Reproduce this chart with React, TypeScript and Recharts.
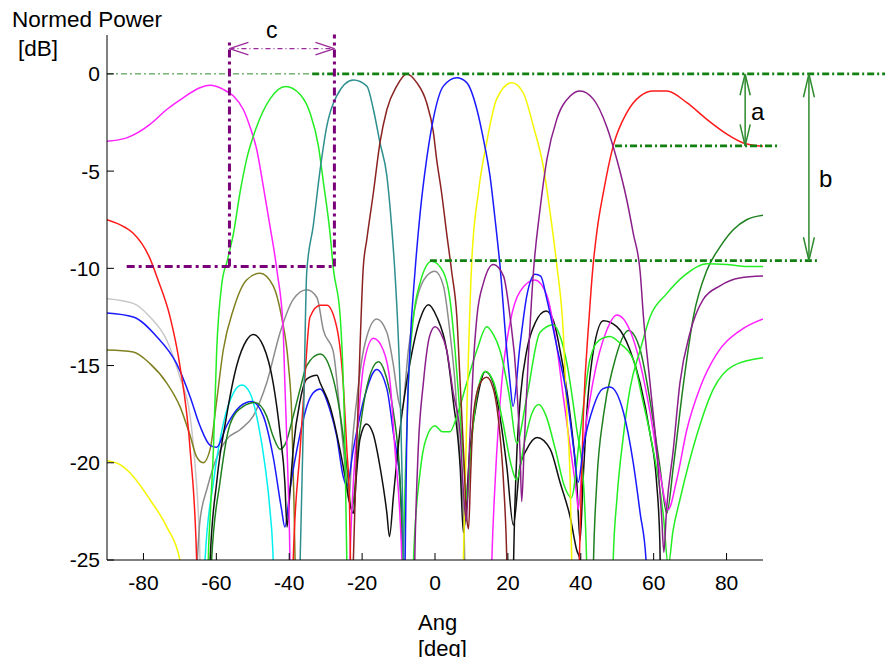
import React from "react";
import { LineChart, Line, XAxis, YAxis, ReferenceLine } from "recharts";

type Pt = [number, number];

const xTicks = [-80, -60, -40, -20, 0, 20, 40, 60, 80];
const yTicks = [-25, -20, -15, -10, -5, 0];

// main beams
const magentaMain: Pt[] = [[-90,-3.46],[-84.6,-3.29],[-78.2,-2.6],[-73.6,-1.83],[-69.1,-1.23],[-64.5,-0.71],[-61.7,-0.59],[-58.1,-0.8],[-55.3,-1.14],[-52.6,-1.83],[-50.8,-2.7],[-48.9,-3.9],[-47.1,-5.8],[-45.3,-7.8],[-43.3,-10.2],[-41.7,-13],[-41.2,-15.9],[-40.3,-21],[-39.8,-25],[-39.5,-30]];
const greenMain: Pt[] = [[-62.6,-30],[-62.2,-25],[-61.7,-22.8],[-60.8,-19.3],[-59.9,-14.2],[-58.5,-10.8],[-57,-9.6],[-55.3,-8.2],[-53.5,-6.1],[-51.7,-4.4],[-48.9,-2.7],[-45.3,-1.3],[-41,-0.65],[-37,-1.06],[-34.3,-2.0],[-32,-3.7],[-30.6,-5.6],[-28.8,-8.2],[-27.9,-10],[-26,-12.5],[-24.7,-19.3],[-24.2,-25],[-23.9,-30]];
const tealMain: Pt[] = [[-37.6,-30],[-37,-25],[-36,-17],[-35.2,-10.2],[-33.4,-7.8],[-31.5,-4.9],[-29.7,-2.7],[-27,-1.14],[-22.4,-0.32],[-18.7,-0.63],[-16.9,-1.83],[-15.1,-3.54],[-13.2,-5.26],[-11.9,-7.84],[-11,-10.2],[-10.2,-13],[-9.6,-16],[-9,-21],[-8.6,-25],[-8.2,-30]];
const brownMain: Pt[] = [[-23,-30],[-22.4,-25],[-21.5,-19.3],[-20.6,-14.2],[-19.7,-10],[-18.7,-8.5],[-16.9,-6.1],[-15.1,-3.54],[-13.2,-1.83],[-10.5,-0.63],[-7.8,0],[-5,-0.45],[-2.3,-1.48],[-0.45,-3.0],[0.45,-4.4],[1.8,-6.1],[3.2,-8.2],[4.6,-10.2],[6,-12.5],[6.9,-15.9],[7.8,-19.3],[8.7,-22.8],[9.2,-23.4],[9.8,-20.5],[10.5,-17.6],[12.4,-15.9],[14.2,-15.6],[16,-16.2],[17.8,-18.5],[18.8,-21],[19.7,-25],[20.2,-30]];
const blueMain: Pt[] = [[-8.8,-30],[-8.2,-25],[-7.8,-19.3],[-6.9,-14.2],[-5.5,-10.2],[-4.1,-7.2],[-2.3,-4.4],[-0.45,-2.3],[2.3,-0.63],[6,-0.2],[8.7,-0.45],[11.5,-1.83],[13.3,-3.37],[15.1,-5.26],[16.5,-7.5],[17.8,-9.8],[19.7,-14.2],[20.6,-15.9],[21.4,-17.1],[23.3,-14.0],[25.2,-11.4],[27.5,-10.3],[29,-10.4],[30.7,-11.6],[33.4,-14.0],[36.2,-16.6],[38,-19.2],[39.3,-21],[40.7,-19.2],[43.5,-17.1],[46,-16.2],[48,-16.1],[51.7,-17.4],[54.4,-20.0],[56.3,-22.6],[57.9,-25],[58.5,-30]];
const yellowMain: Pt[] = [[-90,-19.9],[-86.4,-20.1],[-82.8,-20.7],[-78.2,-21.9],[-73.6,-23.3],[-70,-25],[-69,-30],[7.2,-30],[7.8,-25],[8.8,-17],[10.1,-9.6],[11.9,-6.1],[14.2,-3.5],[16.9,-1.3],[21.1,-0.45],[24.2,-0.97],[27,-2.7],[29.7,-4.75],[31.6,-7.15],[33.4,-9.8],[35.2,-13.3],[36.2,-17.6],[37.1,-21],[37.5,-25],[38,-30]];
const purpleMain: Pt[] = [[-6,-30],[-5.5,-24.5],[-4.6,-19.3],[-3.2,-15.9],[-1.5,-13.5],[0,-13.0],[1.5,-13.3],[3.2,-14.2],[5,-16.4],[6.9,-18.5],[7.8,-21.5],[8.6,-23],[9.5,-19],[10.5,-15],[11.5,-12.5],[13.3,-10.75],[16,-9.8],[18.8,-10.4],[20.6,-12.5],[22.4,-15.9],[23.3,-19.3],[23.8,-22],[24.5,-19],[25.5,-15],[27,-10.2],[28.8,-7.0],[30.7,-4.4],[33.4,-2.34],[37.1,-1.14],[39.8,-0.88],[43.5,-1.31],[47.1,-2.7],[49.9,-4.4],[52.6,-6.46],[54.4,-8.2],[56.3,-10.2],[57.2,-12.5],[59,-15.9],[60.8,-19.3],[62.2,-22.8],[62.8,-24.6],[63.5,-22.5],[65.4,-19.3],[67.2,-15.9],[70,-13.3],[73.6,-11.6],[78.2,-10.9],[83.6,-10.5],[90,-10.4]];
const redMain: Pt[] = [[-90,-7.5],[-85,-7.9],[-82.8,-8.2],[-78.2,-9.5],[-76,-10.6],[-72.7,-12.5],[-70,-15],[-67.2,-19.3],[-65.4,-25],[-64.9,-30],[-39.5,-30],[-38.9,-25],[-37,-19.3],[-35.7,-15.6],[-34.3,-12.5],[-31.5,-11.9],[-29.7,-11.9],[-27,-13.0],[-25.2,-15.9],[-24.2,-19.3],[-23.5,-21.7],[-23.2,-25],[-22.8,-30],[39,-30],[39.6,-25],[40.7,-17.6],[42.3,-12.5],[43.3,-10],[44.5,-8],[46.2,-6.1],[48.9,-3.7],[52.6,-2.0],[56.3,-1.14],[59.9,-0.88],[63.6,-0.88],[69.1,-1.48],[74.6,-2.34],[80.1,-3.1],[84.6,-3.55],[90,-3.72]];

// side lobe traces
const lightGray: Pt[] = [[-90,-11.56],[-82.8,-11.8],[-78.2,-12.5],[-73.6,-13.7],[-70,-15.6],[-67.2,-17.6],[-65.8,-20.2],[-64.9,-22.8],[-64.5,-25],[-64.2,-30]];
const gray: Pt[] = [[-65.5,-26],[-64.5,-23],[-62.5,-21.3],[-60.8,-20.2],[-57.2,-18.8],[-53.5,-18.3],[-49.9,-17.6],[-46.2,-15.9],[-42.5,-13.3],[-38.9,-11.6],[-35.2,-11.1],[-32.4,-11.5],[-30.6,-13.2],[-27.9,-14.3],[-26.1,-17.4],[-24.5,-20.5],[-23.6,-22],[-22.8,-19.3],[-21.5,-16.8],[-19.6,-14.2],[-16,-12.6],[-13.2,-13.3],[-11.4,-15],[-10,-16.8],[-9.1,-17.3],[-7.3,-14.2],[-5,-11.6],[-2.3,-10.4],[0,-10.15],[2.3,-10.9],[4.1,-13.3],[5.5,-15.9],[6.4,-18.5],[7.3,-21],[8,-23.5],[8.6,-30]];
const blueSide: Pt[] = [[-90,-12.3],[-82.8,-12.5],[-76.4,-13.5],[-70.9,-14.9],[-67.2,-16.6],[-64.5,-18.1],[-61.7,-19.1],[-59.9,-19.2],[-57.2,-18.1],[-53.5,-17.1],[-50.3,-16.85],[-47.1,-17.6],[-44.4,-19.7],[-42.1,-22.4],[-41.2,-23.3],[-39.8,-21.4],[-37,-18.5],[-35,-17],[-33.4,-16.4],[-31.5,-16.2],[-28.8,-17.3],[-27,-18.6],[-25.2,-20.7],[-24.2,-21.2],[-22.4,-19.3],[-19.6,-16.8],[-16,-15.2],[-13.2,-16.2],[-11.4,-18.5],[-9.6,-21],[-8.7,-25],[-8.4,-30]];
const olive: Pt[] = [[-90,-14.2],[-82.8,-14.3],[-78.2,-14.9],[-73.6,-15.9],[-70,-17.1],[-67.2,-18.6],[-65.4,-19.7],[-63.6,-20.0],[-61.7,-19.3],[-59.9,-16.8],[-58.1,-14.2],[-55.3,-12.1],[-51.7,-10.6],[-48,-10.25],[-44.4,-10.9],[-42.1,-12.5],[-40.2,-15],[-39.3,-17.6],[-38.7,-22],[-38.2,-27]];
const cyan: Pt[] = [[-64,-30],[-63.1,-25],[-60.8,-21],[-58.1,-18],[-55.3,-16.4],[-53,-16.0],[-50.8,-16.4],[-48.5,-18],[-46.6,-20.2],[-45.3,-22.4],[-44.4,-25],[-44,-30]];
const blackA: Pt[] = [[-62.3,-30],[-61.7,-25],[-59.9,-21],[-57.2,-17.6],[-54.4,-15],[-51.7,-13.7],[-49.9,-13.4],[-47.1,-14.0],[-44.4,-15.9],[-42.5,-18.5],[-41.2,-21],[-40.6,-23.3],[-39.8,-21.5],[-38.9,-19.3],[-37,-16.8],[-35.2,-15.7],[-32.4,-15.5],[-31.5,-15.9],[-28.8,-17.1],[-26.1,-19.3],[-24.7,-20.7],[-23.5,-22],[-22.4,-22.6],[-21.5,-20.5],[-20.6,-18.8],[-18.8,-18.0],[-17,-18.5],[-15.1,-20.2],[-13.2,-22.6],[-12.5,-23.8],[-11.4,-21.7],[-9.6,-18.3],[-6.9,-14.9],[-4.1,-12.6],[-1.8,-11.87],[0.5,-12.5],[3.2,-14.2],[5,-16.8],[6.9,-20.2],[7.8,-23.6],[9.6,-19.3],[11.5,-16.8],[13.8,-15.3],[16,-15.9],[17.8,-17.6],[19.7,-20.2],[21.5,-23.2],[23.3,-20.2],[25.2,-19.3],[28,-18.7],[31.6,-19.3],[34.3,-21],[37.1,-22.8],[38.9,-24.5],[39.8,-25],[40.3,-30]];
const blackB: Pt[] = [[21,-30],[21.8,-23],[22.5,-19.3],[23.5,-16.5],[25.2,-14.2],[27.5,-12.8],[30.5,-12.2],[32.5,-12.7],[34.3,-14.2],[37.1,-17.6],[38.9,-21],[39.8,-24],[40.6,-21],[41.6,-17.6],[43.5,-14.2],[46.2,-12.7],[49.9,-13.0],[53.5,-14.2],[56.3,-15.9],[59,-18.5],[60.8,-21],[61.7,-24.1],[62.2,-30]];
const darkGreen: Pt[] = [[-62,-30],[-61.3,-25],[-59,-21],[-56.2,-18],[-52.6,-17.1],[-49.4,-16.9],[-46.2,-17.6],[-44.4,-18.65],[-42.5,-19.3],[-41,-19],[-38.9,-17.6],[-37,-16.2],[-35.2,-15],[-31.5,-14.4],[-27.9,-15.7],[-26.1,-17.4],[-24.2,-20.2],[-22.9,-22.4],[-20.6,-18.3],[-18.7,-16.1],[-15.5,-14.8],[-13.2,-15.7],[-11.4,-17.4],[-9.6,-20.9],[-9,-25],[-8.5,-30],[43,-30],[43.5,-25],[44.4,-21],[46.2,-17.6],[49,-15],[53.1,-13.2],[56.3,-14.2],[59,-16.8],[61.7,-20.2],[63.6,-22.6],[65.4,-20.2],[68.2,-15.9],[70.9,-12.5],[74.6,-10.1],[78.2,-8.9],[81.9,-8.0],[85.5,-7.5],[90,-7.27]];
const magentaSide: Pt[] = [[-23.8,-30],[-23.3,-25],[-22.4,-21],[-21,-17.6],[-19.6,-15],[-16.9,-13.6],[-14.2,-14.2],[-12.3,-15.9],[-11,-19.3],[-9.6,-22.8],[-9.1,-25],[-8.6,-30],[15,-30],[15.6,-25],[16.5,-21],[18.3,-15.9],[20.6,-12.8],[23.3,-11.2],[27.4,-10.6],[30.7,-11.4],[33.4,-14.0],[35.2,-16.6],[37.1,-19.2],[38.9,-21.7],[39.3,-22.4],[40.7,-19.2],[43.5,-15.7],[47.1,-13.2],[49.9,-12.4],[53.5,-13.2],[56.3,-14.9],[59,-17.4],[61.7,-20.5],[64,-22.4],[66.3,-20.9],[69.1,-18.3],[72.8,-16.1],[77.3,-14.4],[83.7,-13.2],[90,-12.6]];
const greenSideA: Pt[] = [[-9.3,-30],[-8.7,-25],[-8.2,-21],[-7.3,-15.9],[-5.9,-12.5],[-4.1,-10.75],[-0.9,-9.64],[2.3,-10.2],[4.1,-11.6],[5.5,-14.2],[6.9,-17.6],[8.3,-21],[8.8,-22],[9.8,-19.5],[11.5,-16.5],[13.8,-15.3],[16,-15.8],[18.5,-17.8],[21,-20.2],[22.4,-20.9],[24.5,-19],[26.5,-17.5],[28.5,-17.0],[30.5,-17.6],[33,-19.3],[35.5,-21.2],[37.4,-21.8],[39.8,-18.5],[42.5,-14.7],[45,-13.7],[48,-13.5],[51,-13.9],[54.4,-14.7],[57,-16.8],[59,-18.5],[62.7,-22.8],[64,-25.3],[65.3,-23.5],[67.2,-21.9],[71.8,-18.6],[76.4,-16.2],[81.9,-15.0],[90,-14.6]];
const greenSideB: Pt[] = [[-6.6,-30],[-5.9,-25],[-4.1,-20.5],[-2.5,-18.8],[0,-18.1],[2,-18.4],[4.1,-18.4],[6,-17.6],[8.7,-15.9],[11.5,-14.2],[14.2,-13.0],[16,-13.4],[17.8,-14.2],[20.6,-16.8],[22.4,-19],[25.2,-16.6],[28.8,-13.3],[32.5,-12.9],[34.5,-13.6],[36.2,-14.9],[38.9,-18.3],[40.7,-20.9],[41.6,-25],[42.2,-30],[48.3,-30],[48.9,-25],[49.9,-21.9],[51.7,-18.6],[53.5,-16.2],[56.3,-14.2],[59,-12.5],[63.6,-11.3],[68.2,-10.4],[74.6,-9.76],[80,-9.8],[85,-9.9],[90,-9.9]];

const traces = [
  { id: "lightGray", pts: lightGray, color: "#c8c8c8" },
  { id: "gray", pts: gray, color: "#8c8c8c" },
  { id: "olive", pts: olive, color: "#808020" },
  { id: "cyan", pts: cyan, color: "#00f0f0" },
  { id: "blueSide", pts: blueSide, color: "#1a1aff" },
  { id: "darkGreen", pts: darkGreen, color: "#1e801e" },
  { id: "blackA", pts: blackA, color: "#101010" },
  { id: "blackB", pts: blackB, color: "#101010" },
  { id: "magentaSide", pts: magentaSide, color: "#ff20ff" },
  { id: "greenSideA", pts: greenSideA, color: "#22ee22" },
  { id: "greenSideB", pts: greenSideB, color: "#22ee22" },
  { id: "yellow", pts: yellowMain, color: "#f5f500" },
  { id: "red", pts: redMain, color: "#ff1a1a" },
  { id: "magenta", pts: magentaMain, color: "#ff20ff" },
  { id: "green", pts: greenMain, color: "#22ee22" },
  { id: "teal", pts: tealMain, color: "#2f8f8f" },
  { id: "brown", pts: brownMain, color: "#8b2222" },
  { id: "blue", pts: blueMain, color: "#1a1aff" },
  { id: "purple", pts: purpleMain, color: "#8a1f8a" },
];

// annotation geometry in data units: [x1, y1, x2, y2]
const greenDashThin: number[][] = [[-90, 0, -33.7, 0]];
const greenDashThick: number[][] = [[-33.7, 0, 125, 0], [49.4, -3.7, 94.7, -3.7], [-1.4, -9.6, 105.1, -9.6]];
const greenArrows: number[][] = [
  [85.1, 0, 85.1, -3.7], [85.1, 0, 83.7, -1.1], [85.1, 0, 86.5, -1.1], [85.1, -3.7, 83.7, -2.6], [85.1, -3.7, 86.5, -2.6],
  [102.6, 0, 102.6, -9.6], [102.6, 0, 101.1, -1.2], [102.6, 0, 104.1, -1.2], [102.6, -9.6, 101.1, -8.4], [102.6, -9.6, 104.1, -8.4],
];
const purpleDash: number[][] = [[-56.4, -9.9, -56.4, 1.64], [-27.6, -9.9, -27.6, 2.03], [-84.6, -9.9, -27.6, -9.9]];
const purpleArrowShaft: number[][] = [[-56.4, 1.3, -27.6, 1.3]];
const purpleArrowHeads: number[][] = [[-56.4, 1.3, -51.2, 1.62], [-56.4, 1.3, -51.2, 0.98], [-27.6, 1.3, -32.8, 1.62], [-27.6, 1.3, -32.8, 0.98]];

const toRows = (pts: Pt[]) => pts.map(([a, v]) => ({ a, v }));
const seg = (s: number[]) => [{ x: s[0], y: s[1] }, { x: s[2], y: s[3] }];

const FONT = "'Liberation Sans', Arial, Helvetica, sans-serif";

const textStyle = (left: number, top: number, size: number): React.CSSProperties => ({
  position: "absolute",
  left,
  top,
  fontFamily: FONT,
  fontSize: size,
  lineHeight: 1,
  color: "#000",
  whiteSpace: "nowrap",
});

export default function App() {
  return (
    <div style={{ position: "relative", width: 877, height: 649 }}>
      <LineChart width={877} height={649} margin={{ top: 27, right: 122, left: 39, bottom: 67 }}>
        <XAxis
          dataKey="a"
          type="number"
          domain={[-90, 90]}
          allowDataOverflow
          ticks={xTicks}
          interval={0}
          height={30}
          tickSize={-7}
          tickMargin={22}
          stroke="#000"
          tick={{ fill: "#000", fontSize: 21, fontFamily: FONT }}
        />
        <YAxis
          dataKey="v"
          type="number"
          domain={[-25, 2]}
          allowDataOverflow
          ticks={yTicks}
          interval={0}
          width={60}
          tickSize={-7}
          tickMargin={14}
          stroke="#000"
          tick={{ fill: "#000", fontSize: 21, fontFamily: FONT }}
        />
        {traces.map((t) => (
          <Line
            key={t.id}
            data={toRows(t.pts)}
            dataKey="v"
            type="monotone"
            stroke={t.color}
            strokeWidth={1.5}
            dot={false}
            activeDot={false}
            isAnimationActive={false}
          />
        ))}
        {greenDashThin.map((s, i) => (
          <ReferenceLine key={"gt" + i} segment={seg(s)} ifOverflow="visible" stroke="#2e8b2e" strokeWidth={1} strokeDasharray="6 3 2 3" />
        ))}
        {greenDashThick.map((s, i) => (
          <ReferenceLine key={"gk" + i} segment={seg(s)} ifOverflow="visible" stroke="#108010" strokeWidth={2.8} strokeDasharray="7 3 2 3" />
        ))}
        {greenArrows.map((s, i) => (
          <ReferenceLine key={"ga" + i} segment={seg(s)} ifOverflow="visible" stroke="#2e8b2e" strokeWidth={1.5} />
        ))}
        {purpleDash.map((s, i) => (
          <ReferenceLine key={"pd" + i} segment={seg(s)} ifOverflow="visible" stroke="#7a007a" strokeWidth={3} strokeDasharray="8 4 3 4" />
        ))}
        {purpleArrowShaft.map((s, i) => (
          <ReferenceLine key={"ps" + i} segment={seg(s)} ifOverflow="visible" stroke="#9a2a9a" strokeWidth={1.2} strokeDasharray="5 3 1 3" />
        ))}
        {purpleArrowHeads.map((s, i) => (
          <ReferenceLine key={"ph" + i} segment={seg(s)} ifOverflow="visible" stroke="#9a2a9a" strokeWidth={1.2} />
        ))}
      </LineChart>
      <div style={textStyle(4, 1, 22.5)}>Normed Power</div>
      <div style={textStyle(10, 29.5, 22.5)}>[dB]</div>
      <div style={textStyle(410, 604, 22)}>Ang</div>
      <div style={textStyle(410, 630, 22)}>[deg]</div>
      <div style={textStyle(743, 92, 24)}>a</div>
      <div style={textStyle(811, 159, 24)}>b</div>
      <div style={textStyle(258, 11, 23)}>c</div>
    </div>
  );
}
